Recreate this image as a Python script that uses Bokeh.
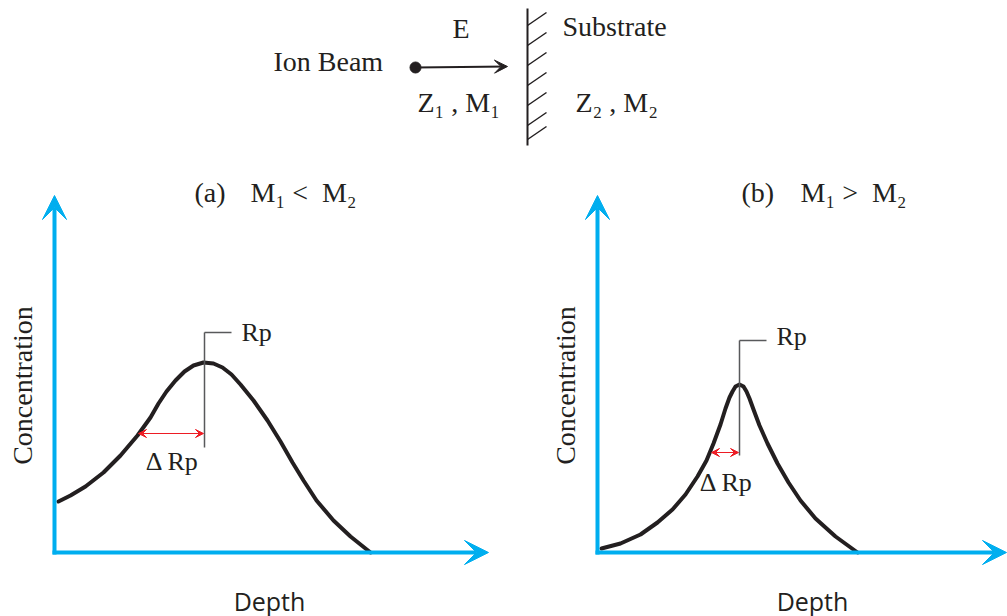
import numpy as np
from bokeh.plotting import figure
from bokeh.models import Range1d, Arrow, VeeHead
from bokeh.layouts import column, row
from bokeh.embed import file_html
from bokeh.resources import INLINE
from bokeh.core.properties import value

INK = "#231F20"
CYAN = "#00AEEF"
RED = "#ED1C24"
GREY = "#58595B"
SERIF = "Liberation Serif"
SANS = "Open Sans"

# Implantation profile (a): M1 < M2  -- depth vs. concentration (arb. units)
depth_a = [4, 16, 31, 49, 66, 83, 96, 104, 112, 121, 130, 139, 149, 159, 168,
           177, 186, 199, 213, 226, 238, 249, 262, 279, 296, 316]
conc_a = [51, 57, 66, 80, 97, 117, 135, 149, 161, 172, 181, 187, 190, 189, 185,
          178, 168, 152, 132, 111, 90, 72, 52, 32, 16, 0]
rp_a = 150          # projected range
drp_a = 66          # straggle
drp_level_a = 119   # height of the straggle marker

# Implantation profile (b): M1 > M2
depth_b = [4, 23, 43, 60, 75, 88, 100, 109, 116, 123, 128, 132, 135, 138, 142,
           146, 149, 152, 156, 162, 170, 180, 191, 203, 218, 238, 260]
conc_b = [4, 9, 18, 30, 43, 58, 76, 92, 109, 128, 144, 155, 161, 166, 168,
          166, 161, 154, 143, 127, 109, 89, 70, 52, 34, 16, 0]
rp_b = 142
drp_b = 28
drp_level_b = 100

W, TOP_H, PANEL_H = 1007, 160, 456


def base_fig(w, h, xr, yr):
    p = figure(width=w, height=h,
               x_range=Range1d(start=xr[0], end=xr[1]),
               y_range=Range1d(start=yr[0], end=yr[1]),
               output_backend="svg", toolbar_location=None, min_border=0,
               x_axis_location=None, y_axis_location=None)
    p.grid.visible = False
    p.outline_line_color = None
    p.background_fill_color = "white"
    p.border_fill_color = "white"
    return p


def label(p, x, y, s, size="28px", font=SERIF, align="left", angle=0.0):
    p.text(x=[x], y=[y], text=[s], text_font=value(font), text_font_size=size,
           text_color=INK, text_align=align, text_baseline="middle",
           angle=angle)


# ---- schematic: ion beam hitting the substrate ----
top = base_fig(W, TOP_H, (0, W), (TOP_H, 0))
label(top, 273, 61, "Ion Beam")
label(top, 452, 28, "E")
label(top, 562, 26, "Substrate")
label(top, 417, 102, "Z\u2081 , M\u2081")
label(top, 575, 102, "Z\u2082 , M\u2082")
top.scatter(x=[415], y=[67], size=11, color=INK)
top.add_layout(Arrow(end=VeeHead(size=13, fill_color=INK, line_color=INK, line_width=1),
                     x_start=415, y_start=67, x_end=507, y_end=66,
                     line_color=INK, line_width=1.8))
top.segment(x0=[527], y0=[8], x1=[527], y1=[145], line_color=INK, line_width=2)
hatch_y = [25, 45, 65, 85, 105, 125, 139]
top.segment(x0=[527] * len(hatch_y), y0=hatch_y,
            x1=[546] * len(hatch_y), y1=[y - 13 for y in hatch_y],
            line_color=INK, line_width=1.5)


def profile_panel(w, xr, depth, conc, rp, drp, lvl, tag, rel,
                  tag_x, rel_x, rp_top, rp_bottom, rp_text_y, drp_text_y, x_tip):
    p = base_fig(w, PANEL_H, xr, (-64, 392))
    # axes drawn as arrows
    p.add_layout(Arrow(end=VeeHead(size=24, fill_color=CYAN, line_color=CYAN, line_width=1),
                       x_start=0, y_start=-2, x_end=0, y_end=357,
                       line_color=CYAN, line_width=4))
    p.add_layout(Arrow(end=VeeHead(size=24, fill_color=CYAN, line_color=CYAN, line_width=1),
                       x_start=-2, y_start=0, x_end=x_tip, y_end=0,
                       line_color=CYAN, line_width=4))
    p.line(depth, conc, line_color=INK, line_width=4, line_join="round", line_cap="round")
    # projected range marker
    p.segment(x0=[rp, rp], y0=[rp_bottom, rp_top], x1=[rp, rp + 27], y1=[rp_top, rp_top],
              line_color=GREY, line_width=1.5)
    label(p, rp + 37, rp_text_y, "Rp", size="26px")
    # straggle marker
    p.add_layout(Arrow(start=VeeHead(size=8, fill_color=RED, line_color=RED, line_width=1),
                       end=VeeHead(size=8, fill_color=RED, line_color=RED, line_width=1),
                       x_start=rp - drp, y_start=lvl, x_end=rp - 1, y_end=lvl,
                       line_color=RED, line_width=1.2))
    label(p, rp - drp / 2 + 1, drp_text_y, "\u0394 Rp", size="26px", align="center")
    # titles and axis names
    label(p, tag_x, 360, tag)
    label(p, rel_x, 360, rel)
    label(p, -32, 167, "Concentration", align="center", angle=np.pi / 2)
    label(p, 215, -48, "Depth", size="25px", font=SANS, align="center")
    return p


pa = profile_panel(540, (-54, 486), depth_a, conc_a, rp_a, drp_a, drp_level_a,
                   "(a)", "M\u2081 <\u00a0 M\u2082", 140, 196, 220, 105, 220, 91, 434)
pb = profile_panel(467, (-57, 410), depth_b, conc_b, rp_b, drp_b, drp_level_b,
                   "(b)", "M\u2081 >\u00a0 M\u2082", 144, 203, 212, 97, 216, 70, 409)

layout = column(top, row(pa, pb, spacing=0), spacing=0)
open("out.html", "w").write(file_html(layout, INLINE))
